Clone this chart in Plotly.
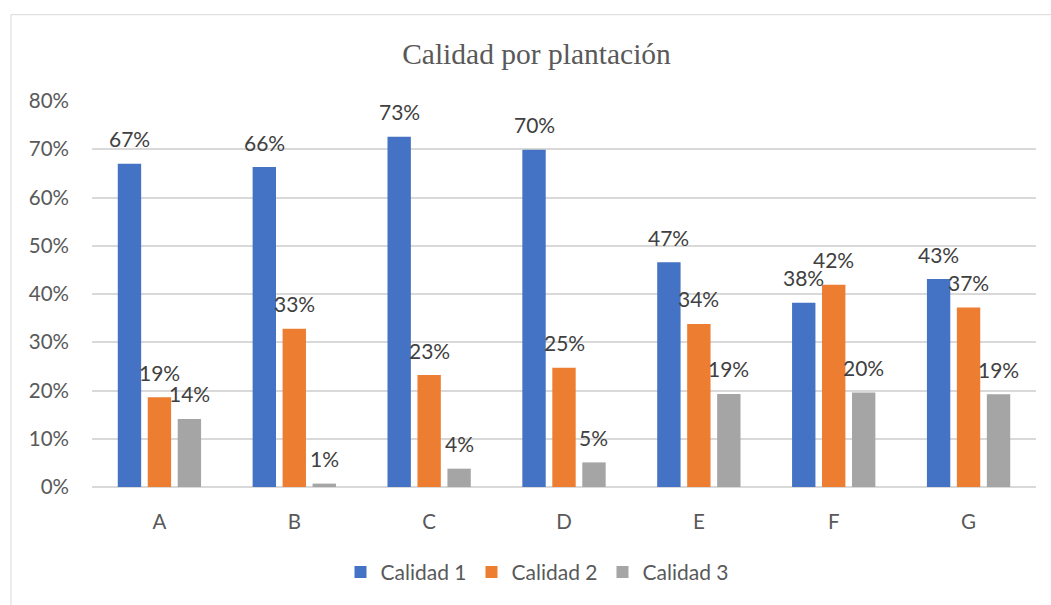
import plotly.graph_objects as go

# Plantations and quality shares (percent)
plantaciones = ["A", "B", "C", "D", "E", "F", "G"]
calidad_1 = [67.0, 66.3, 72.6, 69.9, 46.6, 38.2, 43.1]
calidad_2 = [18.6, 32.8, 23.2, 24.7, 33.8, 41.9, 37.2]
calidad_3 = [14.1, 0.7, 3.8, 5.1, 19.3, 19.6, 19.2]

series_names = ["Calidad 1", "Calidad 2", "Calidad 3"]
series_colors = ["#4472C4", "#ED7D31", "#A5A5A5"]
y_ticks = [0, 10, 20, 30, 40, 50, 60, 70, 80]
y_tick_labels = [f"{t}%" for t in y_ticks]

W, H = 1051, 605
M_L, M_R, M_T, M_B = 92, 15, 101, 115
plot_w = W - M_L - M_R
plot_h = H - M_T - M_B

FONT = "Lato, 'Noto Sans', sans-serif"

fig = go.Figure()
for name, vals, color in zip(series_names, [calidad_1, calidad_2, calidad_3], series_colors):
    fig.add_trace(go.Bar(
        x=plantaciones, y=vals, name=name,
        marker=dict(color=color, line=dict(width=0)),
        hoverinfo="x+y+name",
    ))

# value labels above each bar
pitch = plot_w / len(plantaciones) * (2 / 3) / 3
for i, vals in enumerate([calidad_1, calidad_2, calidad_3]):
    for cat, v in zip(plantaciones, vals):
        fig.add_annotation(
            x=cat, y=v, xref="x", yref="y",
            text=f"{round(v)}%", showarrow=False,
            xanchor="center", yanchor="middle",
            xshift=(i - 1) * pitch, yshift=25,
            font=dict(family=FONT, size=21, color="#404040"),
        )

# light outer frame of the chart area
fig.add_shape(
    type="rect", xref="paper", yref="paper",
    x0=(11 - M_L) / plot_w, x1=(W + 20 - M_L) / plot_w,
    y0=-(H + 10 - M_T - plot_h) / plot_h, y1=(H - M_B - 14) / plot_h,
    line=dict(color="#D9D9D9", width=1), fillcolor="rgba(0,0,0,0)", layer="below",
)

fig.update_layout(
    width=W, height=H,
    margin=dict(l=M_L, r=M_R, t=M_T, b=M_B, pad=0),
    paper_bgcolor="white", plot_bgcolor="white",
    barmode="group", bargap=1 / 3, bargroupgap=0.22,
    title=dict(
        text="Calidad por plantación",
        font=dict(family="'Liberation Serif', 'Times New Roman', serif", size=29.5, color="#595959"),
        x=536.5 / W, xanchor="center", xref="container",
        y=1 - 54 / H, yanchor="middle", yref="container",
    ),
    font=dict(family=FONT, size=20, color="#595959"),
    legend=dict(
        orientation="h", x=(537 - M_L) / plot_w, xanchor="center",
        y=-(576 - (H - M_B)) / plot_h, yanchor="middle",
        font=dict(family=FONT, size=21, color="#595959"),
        itemsizing="constant", traceorder="normal", itemwidth=30,
    ),
    xaxis=dict(
        showgrid=False, showline=False, zeroline=False,
        ticks="", ticklabelstandoff=20,
        tickfont=dict(family=FONT, size=20.5, color="#595959"),
    ),
    yaxis=dict(
        range=[0, 80], tickmode="array", tickvals=y_ticks, ticktext=y_tick_labels,
        showgrid=True, gridcolor="#D9D9D9", gridwidth=1.5,
        zeroline=True, zerolinecolor="#D9D9D9", zerolinewidth=1.5,
        showline=False, ticks="", ticklabelstandoff=22,
        tickfont=dict(family=FONT, size=20.5, color="#595959"),
    ),
)

fig.write_html("out.html")
